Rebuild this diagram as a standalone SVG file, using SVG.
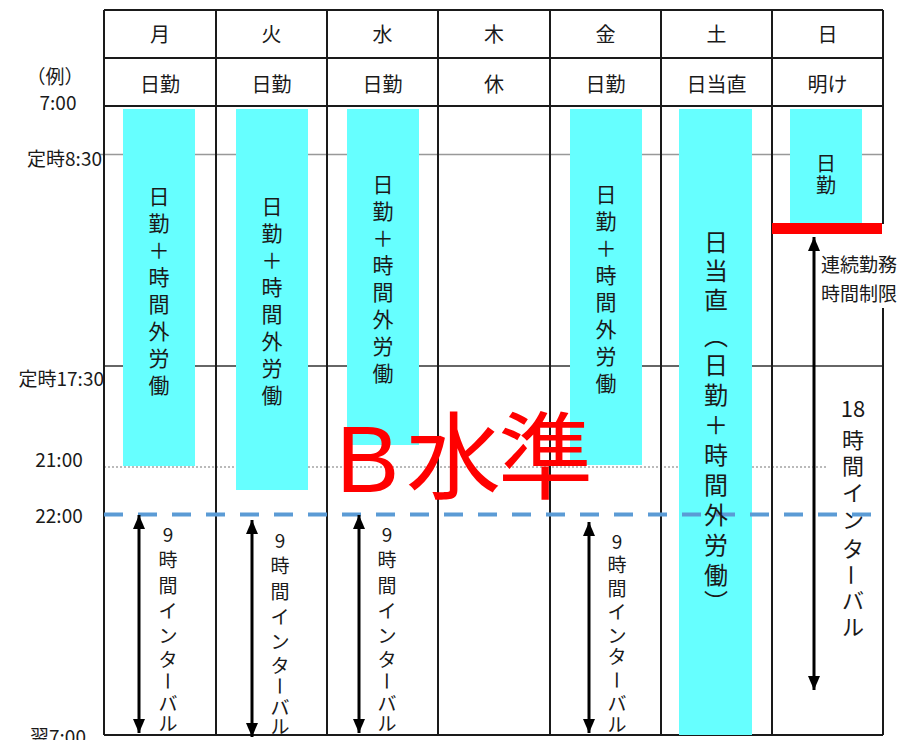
<svg xmlns="http://www.w3.org/2000/svg" width="904" height="740" viewBox="0 0 904 740">
<defs>
<style>
text{font-family:"Noto Sans CJK JP","Noto Sans",sans-serif;fill:#1a1a1a}
.h{font-size:20px;text-anchor:middle;dominant-baseline:central}
.t{font-size:19px;dominant-baseline:central}
.v{font-size:21px;text-anchor:middle;dominant-baseline:central}
.v2{font-size:24px;text-anchor:middle;dominant-baseline:central}
.iv{font-size:19px;text-anchor:middle;dominant-baseline:central}
.iv2{font-size:22px;text-anchor:middle;dominant-baseline:central}
.grid{stroke:#1a1a1a;stroke-width:2;fill:none}
.bar{fill:#66ffff}
.arr{stroke:#000;stroke-width:3;fill:none;marker-start:url(#ah);marker-end:url(#ah)}
.big{font-size:95px;fill:#ff0000}
</style>
<marker id="ah" viewBox="0 0 14 12" refX="14" refY="6" markerWidth="14" markerHeight="12" markerUnits="userSpaceOnUse" orient="auto-start-reverse">
<path d="M0,0 L14,6 L0,12 z" fill="#000"/>
</marker>
</defs>
<rect width="904" height="740" fill="#fff"/>

<g id="grid">
<line x1="100" y1="154.5" x2="883" y2="154.5" stroke="#999" stroke-width="1.5"/>
<line x1="104" y1="366" x2="883" y2="366" stroke="#333" stroke-width="1.5"/>
<line x1="104" y1="467" x2="828" y2="467" stroke="#777" stroke-width="1.2" stroke-dasharray="2 2"/>
<path class="grid" d="M104,10H883M104,58H883M104,106H883M104,735H883M104,10V735M216,10V735M327,10V735M438,10V735M550,10V735M661,10V735M772,10V735M883,10V224M883,308V735"/>
</g>

<g id="bars">
<rect id="bar-mon" class="bar" x="123" y="109" width="72" height="357"/>
<rect id="bar-tue" class="bar" x="236" y="109" width="72" height="381"/>
<rect id="bar-wed" class="bar" x="347" y="109" width="72" height="336"/>
<rect id="bar-fri" class="bar" x="570" y="109" width="72" height="356"/>
<rect id="bar-sat" class="bar" x="679" y="109" width="73" height="626"/>
<rect id="bar-sun" class="bar" x="790" y="109" width="72" height="114"/>
</g>

<line id="line-22" x1="104" y1="514.5" x2="885" y2="514.5" stroke="#5b9bd5" stroke-width="4" stroke-dasharray="19 15"/>

<g id="header">
<text class="h" x="160" y="33">月</text>
<text class="h" x="271.5" y="33">火</text>
<text class="h" x="382.5" y="33">水</text>
<text class="h" x="494" y="33">木</text>
<text class="h" x="605.5" y="33">金</text>
<text class="h" x="716.5" y="33">土</text>
<text class="h" x="827.5" y="33">日</text>
<text class="h" x="160" y="83">日勤</text>
<text class="h" x="271.5" y="83">日勤</text>
<text class="h" x="382.5" y="83">日勤</text>
<text class="h" x="494" y="83">休</text>
<text class="h" x="605.5" y="83">日勤</text>
<text class="h" x="716.5" y="83">日当直</text>
<text class="h" x="827.5" y="83">明け</text>
</g>

<g id="time-labels">
<text class="t" x="55" y="75" text-anchor="middle">（例）</text>
<text class="t" x="58" y="101" text-anchor="middle">7:00</text>
<text class="t" x="102" y="157" text-anchor="end">定時8:30</text>
<text class="t" x="104" y="377" text-anchor="end">定時17:30</text>
<text class="t" x="59" y="458" text-anchor="middle">21:00</text>
<text class="t" x="59" y="514" text-anchor="middle">22:00</text>
<text class="t" x="58" y="735" text-anchor="middle">翌7:00</text>
</g>

<g id="node-mon">
<text class="v" x="159 159 159 159 159 159 159 159" y="195 222 249 276 303 330 357 384">日勤＋時間外労働</text>
</g>
<g id="node-tue">
<text class="v" x="272 272 272 272 272 272 272 272" y="205 232 259 286 313 340 367 394">日勤＋時間外労働</text>
</g>
<g id="node-wed">
<text class="v" x="383 383 383 383 383 383 383 383" y="183 210 237 264 291 318 345 372">日勤＋時間外労働</text>
</g>
<g id="node-fri">
<text class="v" x="606 606 606 606 606 606 606 606" y="193 220 247 274 301 328 355 382">日勤＋時間外労働</text>
</g>
<g id="node-sat">
<text class="v2" x="716 716 716 716 716 716 716 716 716 716 716 716 716" y="240 269 298 334 363 393 423 453 483 513 543 573 600">日当直︵日勤＋時間外労働︶</text>
</g>
<g id="node-sun">
<text class="h" x="826 826" y="162 184">日勤</text>
</g>

<g id="connectors">
<line class="arr" x1="139" y1="515" x2="139" y2="733"/>
<line class="arr" x1="252" y1="520" x2="252" y2="737"/>
<line class="arr" x1="359" y1="515" x2="359" y2="733"/>
<line class="arr" x1="589" y1="522" x2="589" y2="733"/>
<line class="arr" x1="814" y1="237" x2="814" y2="690"/>
</g>

<g id="interval-labels">
<text class="iv" x="168 168 168 168 168 168" y="533 558 584 609 634 658">9時間インタ</text>
<text class="iv" transform="rotate(90 168 681)" x="168" y="681">ー</text>
<text class="iv" x="168 168" y="702 722">バル</text>

<text class="iv" x="280 280 280 280 280 280" y="539 564 590 615 640 664">9時間インタ</text>
<text class="iv" transform="rotate(90 280 686)" x="280" y="686">ー</text>
<text class="iv" x="280 280" y="706 725">バル</text>

<text class="iv" x="387 387 387 387 387 387" y="533 558 584 609 634 658">9時間インタ</text>
<text class="iv" transform="rotate(90 387 681)" x="387" y="681">ー</text>
<text class="iv" x="387 387" y="702 722">バル</text>

<text class="iv" x="617 617 617 617 617 617" y="540 563 587 610 634 655">9時間インタ</text>
<text class="iv" transform="rotate(90 617 680)" x="617" y="680">ー</text>
<text class="iv" x="617 617" y="702 723">バル</text>

<text class="iv2" x="853" y="407">18</text>
<text class="iv2" x="853 853 853 853 853" y="438 464 491 518 547">時間インタ</text>
<text class="iv2" transform="rotate(90 853 575)" x="853" y="575">ー</text>
<text class="iv2" x="853 853" y="599 625">バル</text>

<text class="t" x="821" y="263">連続勤務</text>
<text class="t" x="821" y="292">時間制限</text>
</g>

<rect id="limit-bar" x="772" y="223" width="110" height="11" fill="#ff0000"/>

<text id="level" class="big" x="336 406 498" y="492" style="font-family:'Liberation Sans','Noto Sans CJK JP',sans-serif">B水準</text>
</svg>
